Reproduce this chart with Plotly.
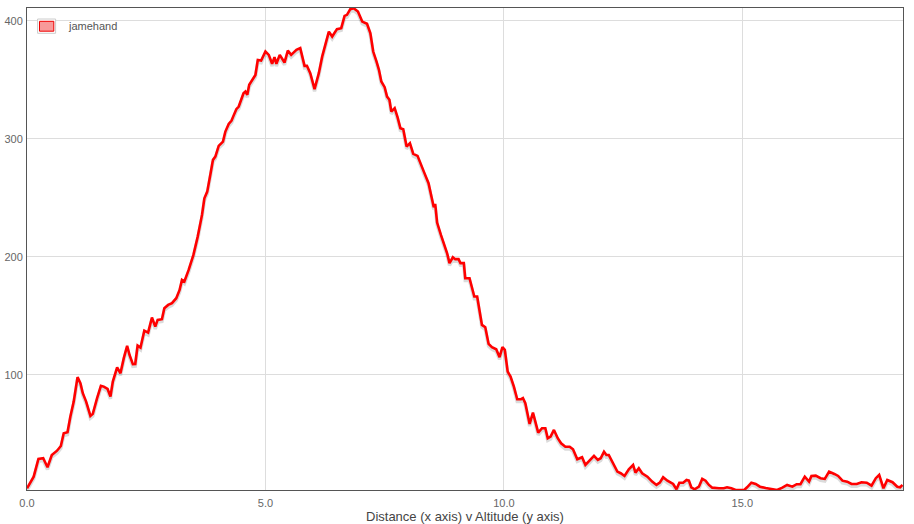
import plotly.graph_objects as go

series_name = "jamehand"

distance_km = [
    0.00, 0.14, 0.24, 0.34, 0.43, 0.52, 0.63, 0.71, 0.77, 0.85, 0.91, 0.98, 1.06, 1.12, 1.17, 1.24,
    1.33, 1.38, 1.47, 1.55, 1.61, 1.69, 1.75, 1.80, 1.89, 1.96, 2.03, 2.10, 2.15, 2.22, 2.27, 2.32,
    2.38, 2.46, 2.54, 2.62, 2.69, 2.74, 2.83, 2.88, 2.96, 3.04, 3.13, 3.20, 3.25, 3.30, 3.39, 3.49,
    3.58, 3.67, 3.72, 3.78, 3.85, 3.90, 3.95, 4.02, 4.11, 4.16, 4.23, 4.29, 4.33, 4.39, 4.44, 4.50,
    4.54, 4.58, 4.62, 4.66, 4.72, 4.79, 4.84, 4.91, 5.00, 5.07, 5.14, 5.19, 5.23, 5.30, 5.40, 5.47,
    5.54, 5.65, 5.73, 5.82, 5.87, 5.94, 6.03, 6.12, 6.19, 6.24, 6.33, 6.40, 6.50, 6.59, 6.66, 6.71,
    6.78, 6.85, 6.94, 7.03, 7.13, 7.20, 7.26, 7.33, 7.38, 7.43, 7.50, 7.55, 7.60, 7.64, 7.71, 7.77,
    7.83, 7.89, 7.96, 8.03, 8.10, 8.19, 8.27, 8.33, 8.42, 8.50, 8.53, 8.56, 8.60, 8.68, 8.75, 8.81,
    8.86, 8.93, 8.98, 9.05, 9.09, 9.16, 9.19, 9.28, 9.38, 9.44, 9.54, 9.61, 9.68, 9.75, 9.84, 9.91,
    9.97, 10.02, 10.08, 10.14, 10.21, 10.28, 10.36, 10.40, 10.45, 10.54, 10.61, 10.72, 10.80, 10.87,
    10.92, 10.98, 11.05, 11.13, 11.20, 11.29, 11.38, 11.45, 11.54, 11.64, 11.71, 11.80, 11.89, 11.97,
    12.03, 12.10, 12.15, 12.20, 12.29, 12.38, 12.45, 12.53, 12.62, 12.71, 12.76, 12.83, 12.90, 13.01,
    13.11, 13.20, 13.27, 13.34, 13.43, 13.55, 13.62, 13.68, 13.76, 13.83, 13.88, 13.93, 14.00, 14.09,
    14.16, 14.23, 14.30, 14.37, 14.51, 14.61, 14.68, 14.77, 14.86, 15.04, 15.10, 15.19, 15.28, 15.37,
    15.49, 15.59, 15.73, 15.84, 15.94, 16.05, 16.14, 16.22, 16.31, 16.40, 16.45, 16.54, 16.64, 16.73,
    16.82, 16.93, 17.01, 17.10, 17.20, 17.29, 17.40, 17.50, 17.61, 17.71, 17.80, 17.87, 17.96, 18.04,
    18.15, 18.25, 18.31, 18.36,
]

altitude_m = [
    4.0, 13.8, 28.8, 29.4, 21.8, 32.2, 35.8, 39.8, 50.6, 51.4, 64.7, 77.4, 98.1, 93.0, 84.5, 77.4,
    65.3, 67.0, 80.3, 90.7, 90.1, 88.1, 81.6, 94.3, 106.5, 101.4, 114.2, 124.6, 116.9, 109.1, 109.3, 124.8,
    123.1, 137.5, 135.8, 148.6, 140.9, 146.6, 147.2, 156.5, 159.3, 160.8, 165.0, 172.0, 180.5, 179.1, 189.0, 201.7,
    217.2, 235.6, 249.7, 255.3, 270.9, 282.2, 285.0, 294.1, 297.7, 306.2, 312.7, 315.5, 319.5, 325.2, 327.4, 333.6,
    338.7, 340.1, 337.3, 345.8, 349.4, 354.2, 366.9, 366.4, 374.0, 371.2, 363.6, 369.2, 363.6, 371.2, 364.7, 374.8,
    371.2, 375.4, 376.9, 361.9, 361.9, 355.7, 342.1, 355.7, 369.7, 378.2, 390.9, 386.7, 393.0, 393.8, 404.2, 405.1,
    409.9, 410.7, 407.9, 399.4, 397.5, 389.6, 374.0, 365.5, 358.5, 348.6, 343.8, 335.8, 333.1, 323.1, 326.0, 318.4,
    309.1, 308.2, 293.5, 296.4, 287.3, 285.6, 276.5, 271.4, 262.5, 248.3, 242.1, 244.9, 229.1, 218.6, 210.2, 203.1,
    194.7, 199.7, 198.1, 198.1, 194.7, 194.7, 181.9, 181.9, 166.4, 166.4, 142.4, 140.4, 126.3, 123.5, 121.8, 115.0,
    123.5, 121.2, 102.8, 98.6, 90.1, 79.4, 79.4, 80.3, 76.0, 58.5, 68.1, 51.1, 54.8, 54.8,
    46.4, 47.7, 53.4, 46.4, 42.1, 39.2, 39.2, 37.0, 28.6, 30.3, 23.7, 27.4, 31.4, 28.0,
    29.4, 35.0, 32.2, 32.2, 25.2, 18.1, 16.7, 14.4, 20.1, 23.7, 17.2, 20.9, 16.7, 13.8,
    9.6, 6.8, 8.7, 13.3, 10.4, 7.6, 3.1, 8.7, 8.7, 11.0, 10.4, 4.8, 3.1, 5.3,
    11.9, 10.4, 6.8, 4.5, 4.0, 4.0, 4.8, 4.0, 2.5, 2.5, 4.8, 8.7, 7.6, 5.3,
    4.2, 3.4, 2.5, 4.5, 6.8, 5.3, 7.4, 7.4, 13.8, 9.6, 14.4, 14.7, 12.5, 11.9,
    18.1, 16.1, 14.4, 10.4, 9.6, 7.6, 7.6, 9.1, 8.7, 6.2, 12.5, 15.3, 4.0, 11.0,
    9.1, 5.3, 4.8, 6.8,
]

x_tick_values = [0, 5, 10, 15]
x_tick_labels = ["0.0", "5.0", "10.0", "15.0"]
y_tick_values = [100, 200, 300, 400]
y_tick_labels = ["100", "200", "300", "400"]
x_title = "Distance (x axis) v Altitude (y axis)"

FONT = "Liberation Sans, Arial, Helvetica, sans-serif"

y_lo, y_hi = min(altitude_m), max(altitude_m) + 0.2
plot_h_px = 482
shadow_offset = 2.2 * (y_hi - y_lo) / plot_h_px

fig = go.Figure()
# soft drop shadow under the line
fig.add_trace(go.Scatter(
    x=distance_km, y=[v - shadow_offset for v in altitude_m], mode="lines",
    line=dict(color="rgba(0,0,0,0.14)", width=3.5), hoverinfo="skip", showlegend=False,
))
fig.add_trace(go.Scatter(
    x=distance_km, y=altitude_m, mode="lines", name=series_name,
    line=dict(color="#ff0000", width=2.6), showlegend=False,
))

# legend box (drawn manually to mimic the square swatch)
fig.add_shape(type="rect", xref="paper", yref="paper", xsizemode="pixel", ysizemode="pixel",
              xanchor=0, yanchor=1, x0=10.6, x1=28.6, y0=-11, y1=-25.3,
              line=dict(color="#cccccc", width=1), fillcolor="white", layer="above")
fig.add_shape(type="rect", xref="paper", yref="paper", xsizemode="pixel", ysizemode="pixel",
              xanchor=0, yanchor=1, x0=12.5, x1=26.8, y0=-13.3, y1=-23.2,
              line=dict(color="#ee0000", width=1), fillcolor="#f89a9a", layer="above")
fig.add_annotation(x=0, y=1, xref="paper", yref="paper", xanchor="left", yanchor="middle",
                   xshift=38.5, yshift=-18, text=series_name, showarrow=False,
                   font=dict(family=FONT, size=11, color="#555555"))
# x-axis title
fig.add_annotation(x=0.5, y=0, xref="paper", yref="paper", xanchor="center", yanchor="middle",
                   yshift=-26, text=x_title, showarrow=False,
                   font=dict(family=FONT, size=13, color="#444444"))

fig.update_layout(
    width=914, height=524,
    margin=dict(l=27, r=11, t=8, b=34, autoexpand=False),
    paper_bgcolor="white", plot_bgcolor="white",
    showlegend=False,
    font=dict(family=FONT, size=11, color="#666666"),
    xaxis=dict(
        range=[0, max(distance_km) + 0.01], tickvals=x_tick_values, ticktext=x_tick_labels,
        showgrid=True, gridcolor="#dddddd", gridwidth=1, zeroline=False,
        showline=True, linecolor="#555555", linewidth=1, mirror=True,
        ticks="", ticklabelstandoff=3, automargin=False,
        tickfont=dict(family=FONT, size=11, color="#666666"),
    ),
    yaxis=dict(
        range=[y_lo, y_hi], tickvals=y_tick_values, ticktext=y_tick_labels,
        showgrid=True, gridcolor="#dddddd", gridwidth=1, zeroline=False,
        showline=True, linecolor="#555555", linewidth=1, mirror=True,
        ticks="", ticklabelstandoff=1, automargin=False,
        tickfont=dict(family=FONT, size=11, color="#666666"),
    ),
)

fig.write_html(
    "out.html",
    config={"displayModeBar": False},
    post_script="document.body.style.margin='0';document.body.style.padding='0';"
                "document.documentElement.style.overflow='hidden';",
)
